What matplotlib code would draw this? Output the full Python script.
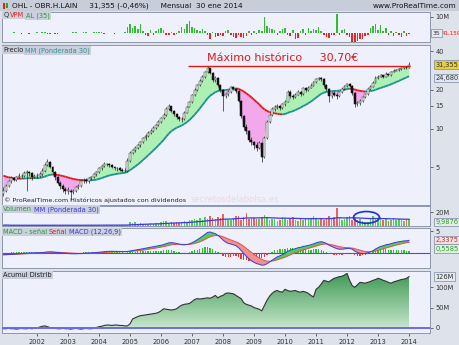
import numpy as np
import pandas as pd
import matplotlib
matplotlib.use("Agg")
import matplotlib.pyplot as plt
from matplotlib.patches import Ellipse, Rectangle
from matplotlib.collections import LineCollection
from matplotlib.ticker import NullLocator

W, H = 460, 345

# months counted from jan 2002, first candle = dec 2000
first_month = -13
years = list(range(2002, 2015))

# monthly closes before the visible window (only feed the averages)
pre_closes = [5.8, 6.0, 6.2, 5.9, 5.6, 5.4, 5.5, 5.6, 5.3, 5.0, 5.1, 5.2, 5.0, 4.8, 4.9,
              5.0, 4.8, 4.6, 4.7, 4.5, 4.3, 4.4, 4.2, 4.0, 3.9, 3.7, 3.5, 3.4, 3.2]

first_open = 3.1
closes = [3.3, 3.6, 3.9, 4.1, 4.0, 4.2, 4.3, 4.3, 4.5, 4.6, 4.5, 4.2, 4.3,
          4.3, 4.4, 4.7, 5.2, 5.5, 5.0, 4.6, 4.2, 3.8, 3.6, 3.4, 3.3,
          3.3, 3.2, 3.3, 3.5, 3.6, 3.9, 4.0, 3.9, 4.1, 4.2, 4.4, 4.6,
          4.9, 5.1, 5.3, 5.3, 5.2, 5.0, 4.9, 4.9, 4.8, 4.7, 4.7, 5.6,
          6.5, 6.8, 7.1, 7.4, 7.8, 8.4, 8.8, 9.2, 9.6, 10.1, 10.6, 11.3,
          12.0, 12.8, 14.2, 14.9, 13.8, 12.9, 12.3, 11.9, 11.9, 13.3, 14.8, 16.0,
          18.2, 20.0, 21.8, 23.6, 25.3, 27.4, 29.3, 27.0, 23.8, 24.6, 21.8, 19.8,
          17.9, 18.5, 19.3, 21.0, 20.3, 19.6, 16.5, 12.5, 10.3, 9.5, 8.2, 7.8,
          7.5, 7.1, 7.7, 6.0, 8.5, 11.2, 12.8, 14.2, 14.8, 14.9, 14.5, 15.4,
          16.2, 19.4, 18.0, 17.6, 18.4, 19.3, 18.6, 20.6, 19.8, 20.8, 21.6, 22.9,
          24.2, 24.5, 24.2, 21.8, 20.4, 17.8, 18.9, 18.4, 17.9, 19.1, 20.4, 21.3,
          22.2, 21.6, 18.8, 15.6, 15.8, 16.5, 17.5, 18.5, 20.3, 21.2, 22.8, 24.8,
          25.3, 25.9, 25.2, 26.7, 25.9, 27.6, 28.2, 28.4, 29.2, 29.3, 30.3, 29.8,
          31.355]
highs = [3.5, 3.7, 4.0, 4.3, 4.2, 4.3, 4.5, 4.4, 4.7, 4.8, 4.7, 4.6, 4.4,
         4.5, 4.6, 4.9, 5.4, 5.8, 5.6, 5.1, 4.7, 4.3, 3.9, 3.7, 3.5,
         3.5, 3.4, 3.4, 3.6, 3.7, 4.0, 4.1, 4.1, 4.2, 4.3, 4.5, 4.7,
         5.0, 5.2, 5.5, 5.4, 5.4, 5.3, 5.1, 5.0, 5.0, 4.9, 4.9, 5.9,
         6.7, 7.0, 7.3, 7.6, 8.0, 8.6, 9.0, 9.5, 9.9, 10.4, 10.9, 11.6,
         12.4, 13.2, 14.6, 15.4, 15.1, 14.0, 13.1, 12.5, 12.3, 13.6, 15.1, 16.4,
         18.6, 20.5, 22.3, 24.2, 26.0, 28.2, 30.7, 29.8, 27.4, 25.4, 25.0, 22.2,
         20.2, 19.0, 19.8, 21.6, 21.5, 20.8, 19.9, 16.8, 12.8, 10.8, 9.8, 8.6,
         8.0, 7.8, 8.0, 7.9, 8.8, 11.6, 13.2, 14.6, 15.3, 15.5, 15.3, 15.9,
         16.8, 20.0, 19.8, 18.5, 18.9, 19.9, 19.6, 21.2, 21.0, 21.4, 22.6, 23.5,
         24.8, 25.3, 25.0, 24.5, 22.3, 20.8, 19.4, 19.6, 18.9, 19.6, 21.0, 21.9,
         22.8, 22.6, 22.0, 19.2, 16.5, 17.0, 18.0, 19.0, 20.8, 21.8, 23.4, 25.4,
         26.0, 26.6, 26.3, 27.3, 27.0, 28.2, 28.8, 29.0, 29.8, 29.9, 30.9, 30.8,
         32.8]
lows = [3.0, 3.2, 3.5, 3.8, 3.9, 3.9, 4.1, 4.1, 4.2, 3.3, 4.3, 4.0, 4.1,
        4.1, 4.2, 4.3, 4.6, 5.1, 4.9, 4.4, 4.0, 3.7, 3.4, 3.2, 3.1,
        3.1, 2.8, 3.1, 3.2, 3.4, 3.5, 3.8, 3.8, 3.8, 4.0, 4.1, 4.3,
        4.5, 4.8, 5.0, 5.1, 5.0, 4.9, 4.8, 4.7, 4.7, 4.6, 4.6, 4.6,
        5.5, 6.3, 6.6, 7.0, 7.2, 7.7, 8.2, 8.6, 9.0, 9.4, 9.9, 10.4,
        11.1, 11.8, 12.6, 13.9, 13.4, 12.6, 11.9, 11.4, 11.2, 11.7, 13.1, 14.6,
        15.8, 17.9, 19.6, 21.4, 23.2, 24.9, 27.0, 26.5, 23.2, 23.1, 21.2, 19.2,
        13.8, 17.2, 18.0, 19.0, 19.8, 19.0, 16.0, 12.0, 9.8, 9.0, 7.8, 7.4,
        7.0, 6.7, 6.9, 5.5, 5.9, 8.3, 11.0, 12.5, 13.8, 14.2, 14.0, 14.2,
        15.1, 16.0, 17.3, 17.0, 17.3, 18.1, 18.0, 18.4, 19.3, 19.5, 20.5, 21.3,
        22.6, 23.8, 23.6, 21.2, 19.6, 16.0, 17.3, 17.8, 17.0, 17.6, 18.8, 20.0,
        21.0, 21.0, 18.2, 14.8, 14.9, 15.3, 16.2, 17.2, 18.2, 20.0, 21.0, 22.5,
        24.4, 25.0, 24.8, 25.0, 25.4, 25.7, 27.3, 27.8, 28.1, 28.6, 29.0, 29.2,
        29.6]

# volume, millions of shares
volume_m = [1.2, 1.5, 1.0, 0.9, 1.3, 1.1, 0.8, 1.0, 1.4, 0.9, 1.2, 1.0, 1.1,
            1.3, 1.0, 1.2, 1.5, 1.1, 0.9, 1.0, 1.2, 1.4, 1.0, 0.8, 1.1,
            1.3, 1.0, 0.9, 1.2, 1.1, 1.0, 1.3, 1.5, 1.2, 1.0, 1.1, 1.4,
            1.6, 1.8, 1.3, 1.5, 1.2, 1.4, 1.1, 1.3, 1.6, 1.2, 1.4, 2.0,
            6.5, 4.0, 5.5, 3.2, 4.8, 3.5, 2.8, 3.6, 4.2, 3.0, 3.8, 4.5,
            5.2, 6.8, 7.5, 5.0, 6.2, 4.8, 5.5, 4.1, 6.0, 7.2, 5.8, 8.5,
            9.0, 10.5, 8.2, 11.0, 9.4, 12.5, 10.0, 14.5, 11.2, 9.8, 13.0, 12.2,
            18.0, 10.5, 9.2, 8.4, 11.5, 13.8, 15.0, 9.0, 12.4, 18.5, 10.2, 12.0,
            11.5, 9.8, 10.8, 13.0, 16.2, 11.0, 8.5, 9.6, 10.4, 7.8, 9.2, 13.5,
            11.8, 8.6, 10.2, 12.6, 9.4, 7.8, 11.0, 8.2, 9.6, 12.0, 11.0, 14.5,
            10.5, 9.0, 11.8, 8.4, 12.2, 15.0, 9.6, 13.4, 26.0, 11.6, 8.0, 10.2,
            12.8, 14.8, 9.0, 11.4, 8.2, 10.0, 7.4, 6.4, 5.8, 11.6, 14.2, 10.6,
            9.2, 12.6, 8.8, 10.4, 7.8, 9.4, 11.2, 8.6, 10.0, 9.2, 7.6, 10.8,
            9.9]

vpm_m = [0.2, -0.3, 0.3, -0.2, 0.4, -0.3, 0.2, -0.4, 0.3, 0.2, -0.5, 0.3, -0.2,
         0.4, 0.3, 0.5, 0.6, -0.4, -0.5, -0.3, -0.6, -0.4, 0.2, -0.3, 0.3,
         -0.2, 0.3, 0.4, 0.5, 0.3, -0.3, 0.4, 0.5, -0.3, 0.3, 0.4, 0.6,
         0.8, 0.5, -0.4, 0.3, -0.3, 0.2, -0.4, 0.3, -0.3, 0.2, 0.4, 3.5,
         5.5, 3.0, 4.5, 2.2, 5.8, 1.5, -1.2, -1.8, 2.0, -1.5, 1.2, 2.4,
         3.2, 2.0, -1.0, -1.5, 0.8, -1.2, -0.8, 1.0, 3.5, 2.5, 5.8, 7.5,
         4.0, 3.2, 1.8, 1.2, 2.5, 1.5, -1.0, -3.5, 0.8, -2.5, -1.8, -1.2,
         -2.0, 1.5, 2.0, -1.0, -2.2, -3.0, -1.5, -2.5, -3.2, -1.8, 1.2, -1.0,
         1.5, -0.8, 2.0, 1.0, 10.0, 4.5, 3.2, 2.5, 1.8, -1.0, 1.5, 2.2,
         3.0, -1.5, -2.0, 1.8, -3.5, -2.8, 1.5, 2.5, -1.2, 3.0, 1.5, 2.8,
         2.0, 3.5, 1.2, -1.5, -2.2, -3.0, -1.2, -1.0, 12.0, -1.5, 1.8, 2.5,
         -1.0, -2.5, -5.5, -6.0, -5.2, -4.0, -3.5, -2.0, -1.5, 3.0, 4.2, 5.6,
         2.0, 5.0, 1.5, 3.2, -1.0, 1.2, -2.0, 0.8, -1.5, -2.2, 1.0, -1.8,
         -0.5]

acumul_m = [-2, -2, -1, -2, -2, -3, -2, -1, -2, -2, -1, -2, -1,
            0, 2, 4, 5, 3, 1, 0, -1, -2, -2, -1, -2,
            -2, -3, -2, -1, -2, -3, -2, -1, -2, -2, -1, 1,
            3, 4, 6, 7, 7, 6, 7, 7, 6, 6, 5, 5,
            10, 22, 25, 28, 30, 31, 32, 33, 34, 35, 36, 38,
            42, 47, 46, 45, 44, 45, 47, 52, 56, 58, 59, 60,
            65, 70, 72, 71, 72, 73, 74, 73, 76, 80, 74, 78,
            80, 85, 86, 85, 84, 80, 76, 72, 62, 58, 56, 54,
            50, 48, 46, 42, 55, 68, 78, 85, 90, 92, 89, 88,
            95, 92, 90, 91, 92, 89, 88, 90, 88, 85, 80, 76,
            95, 100, 108, 117, 115, 113, 118, 122, 124, 126, 127, 130,
            134, 117, 104, 100, 106, 112, 111, 110, 112, 114, 117, 119,
            122, 120, 117, 115, 112, 110, 113, 115, 117, 119, 120, 122,
            126]

record_price = 30.70
last_ma_label = 24.68

# ---------------------------------------------------------------
c = np.array(closes)
o = np.array([first_open] + closes[:-1])
hi = np.array(highs)
lo = np.array(lows)
n = np.arange(len(c)) + first_month
vol = np.array(volume_m)
vpm = np.array(vpm_m)
ad = np.array(acumul_m)

def wma(values, period):
    w = np.arange(1, period + 1)
    return pd.Series(values).rolling(period).apply(lambda x: np.dot(x, w) / w.sum(), raw=True).values

full = np.array(pre_closes + closes)
ma = wma(full, 30)[len(pre_closes):]
vol_ma = pd.Series(vol).rolling(30, min_periods=1).apply(
    lambda x: np.dot(x, np.arange(1, len(x) + 1)) / np.arange(1, len(x) + 1).sum(), raw=True).values

s = pd.Series(full)
macd_full = s.ewm(span=12, adjust=False).mean() - s.ewm(span=26, adjust=False).mean()
signal_full = macd_full.ewm(span=9, adjust=False).mean()
macd = macd_full.values[len(pre_closes):]
signal = signal_full.values[len(pre_closes):]
hist = macd - signal

# ---------------------------------------------------------------
BG = "#dde2eb"
PANEL = "#eef0fb"
EDGE = "#8e97ab"
XL = (-13.55, 152.1)

fig = plt.figure(figsize=(W / 100, H / 100), dpi=100, facecolor=BG)

def px_axes(x0, y0, x1, y1):
    ax = fig.add_axes([x0 / W, 1 - y1 / H, (x1 - x0) / W, (y1 - y0) / H])
    ax.set_facecolor(PANEL)
    for sp in ax.spines.values():
        sp.set_color(EDGE)
        sp.set_linewidth(0.7)
    ax.set_xlim(*XL)
    ax.set_xticks([])
    ax.yaxis.tick_right()
    ax.tick_params(axis="y", labelsize=4.8, length=2, width=0.5, colors="#333", pad=2)
    return ax

def tab(ax, parts, y=0.985):
    x = 0.003
    for txt, col in parts:
        t = ax.text(x, y, txt, transform=ax.transAxes, fontsize=4.8, color=col, va="top", ha="left",
                    bbox=dict(boxstyle="square,pad=0.15", fc="#c9cfdc", ec="none"), zorder=20)
        fig.canvas.draw()
        bb = t.get_window_extent().transformed(ax.transAxes.inverted())
        x = bb.x1 + 0.004

def value_box(ax, y, txt, fc, tc, ec="#7d8aa3", x=1.012, size=4.8):
    ax.text(x, y, txt, transform=ax.get_yaxis_transform(), fontsize=size, color=tc,
            va="center", ha="left", clip_on=False,
            bbox=dict(boxstyle="square,pad=0.2", fc=fc, ec=ec, lw=0.5), zorder=30)

# title bar
fig.patches.append(Rectangle((0, 1 - 11 / H), 1, 11 / H, transform=fig.transFigure,
                             fc="#c7cdd9", ec="none"))
fig.patches.append(Rectangle((3 / W, 1 - 9 / H), 2 / W, 6 / H, transform=fig.transFigure, fc="#dd2222"))
fig.patches.append(Rectangle((6 / W, 1 - 8 / H), 2 / W, 5 / H, transform=fig.transFigure, fc="#22aa22"))
fig.text(12 / W, 1 - 5.5 / H, "OHL - OBR.H.LAIN     31,355 (-0,46%)     Mensual  30 ene 2014",
         fontsize=5.3, va="center", ha="left", color="#111")
fig.text(456 / W, 1 - 5.5 / H, "www.ProRealTime.com", fontsize=5.3, va="center", ha="right", color="#111")

# VPM panel
ax_v = px_axes(2, 12, 430, 42)
ax_v.set_ylim(-5.6, 13.1)
ax_v.bar(n, vpm, width=0.6, color=np.where(vpm >= 0, "#33bb33", "#ee2222"), lw=0)
ax_v.set_yticks([10])
ax_v.set_yticklabels(["10M"])
ax_v.text(1.027, 0, "41,159", transform=ax_v.get_yaxis_transform(), fontsize=4.0, color="#dd2222",
          va="center", ha="left", clip_on=False,
          bbox=dict(boxstyle="square,pad=0.12", fc="#f3dede", ec="none"), zorder=29)
value_box(ax_v, 0, "35", "#e6e9f2", "#333", x=1.006, size=4.4)
tab(ax_v, [("Q", "#333"), ("VPM", "#dd2222"), ("AL (35)", "#2a9a2a")])

# price panel
ax_p = px_axes(2, 45, 430, 205)
ax_p.set_yscale("log")
ax_p.set_ylim(2.55, 44.6)
ax_p.yaxis.set_minor_locator(NullLocator())
ax_p.set_yticks([5, 10, 15, 20, 40])
ax_p.set_yticklabels(["5", "10", "15", "20", "40"])

ax_p.fill_between(n, c, ma, where=c >= ma, interpolate=True, color="#aef0b4", lw=0, zorder=1)
ax_p.fill_between(n, c, ma, where=c < ma, interpolate=True, color="#f4a8ec", lw=0, zorder=1)

pts = np.column_stack([n, ma]).reshape(-1, 1, 2)
segs = np.concatenate([pts[:-1], pts[1:]], axis=1)
seg_cols = np.where(np.diff(ma) >= 0, "#17918c", "#e01818")
ax_p.add_collection(LineCollection(segs, colors=seg_cols, linewidths=1.3, zorder=3))

up = c >= o
body_lo = np.minimum(o, c)
body_h = np.maximum(np.abs(c - o), 0.02)
ax_p.vlines(n, lo, hi, color="#222", lw=0.5, zorder=4)
ax_p.bar(n[up], body_h[up], bottom=body_lo[up], width=0.75, color="#f2f2f2", edgecolor="#333",
         lw=0.35, zorder=5)
ax_p.bar(n[~up], body_h[~up], bottom=body_lo[~up], width=0.75, color="#111", edgecolor="#111",
         lw=0.35, zorder=5)

ax_p.hlines(record_price, 58.5, 144.5, color="#e01818", lw=1.0, zorder=6)
ax_p.text(95, 35.2, "Máximo histórico     30,70€", fontsize=8, color="#e01818",
          ha="center", va="center", zorder=7)
ax_p.text(0.005, 0.012, "© ProRealTime.com Históricos ajustados con dividendos", transform=ax_p.transAxes,
          fontsize=4.6, color="#222", va="bottom", ha="left", zorder=7)
ax_p.text(0.44, 0.005, "secretosdelabolsa.es", transform=ax_p.transAxes, fontsize=6,
          color="#f2d6d6", va="bottom", ha="left", zorder=0.5)
value_box(ax_p, closes[-1], "31,355", "#e6cf3c", "#333")
value_box(ax_p, last_ma_label, "24,680", "#dfe8f2", "#333")
tab(ax_p, [("Precio", "#222"), ("MM (Ponderada 30)", "#3c8f92")])

# volume panel
ax_vol = px_axes(2, 206, 430, 226)
ax_vol.set_ylim(0, 29)
ax_vol.bar(n, vol, width=0.6, color=np.where(up, "#55cc55", "#ee6060"), lw=0)
ax_vol.plot(n, vol_ma, color="#3b3bdd", lw=0.9)
ax_vol.add_patch(Ellipse((127.5, 12.5), 10, 17, fill=False, ec="#1f2fd8", lw=1.2, zorder=6))
ax_vol.set_yticks([20])
ax_vol.set_yticklabels(["20M"])
value_box(ax_vol, 6.0, "9,9876", "#e0f0e0", "#2a9a2a")
tab(ax_vol, [("Volumen", "#2a9a2a"), ("MM (Ponderada 30)", "#3b3bdd")])

# MACD panel
ax_m = px_axes(2, 228, 430, 268)
ax_m.set_ylim(-3.6, 5.7)
ax_m.axhline(0, color="#4a4aee", lw=0.8, zorder=1)
ax_m.bar(n, hist, width=0.5, color=np.where(hist >= 0, "#33bb33", "#ee3333"), lw=0, zorder=2)
ax_m.fill_between(n, macd, signal, where=macd >= signal, interpolate=True, color="#55cc55", lw=0, zorder=3)
ax_m.fill_between(n, macd, signal, where=macd < signal, interpolate=True, color="#f09090", lw=0, zorder=3)
ax_m.plot(n, signal, color="#e05050", lw=0.7, zorder=4)
ax_m.plot(n, macd, color="#3a3ae0", lw=0.7, zorder=4)
ax_m.set_yticks([5])
ax_m.set_yticklabels(["5"])
value_box(ax_m, 2.9, "2,3375", "#f4e0e0", "#dd2222")
value_box(ax_m, 0.9, "0,5585", "#e0f0e0", "#2a9a2a")
tab(ax_m, [("MACD - señal", "#2a9a2a"), ("Señal", "#dd2222"), ("MACD (12,26,9)", "#3b3bdd")])

# accumulation / distribution panel
ax_a = px_axes(2, 271, 430, 333)
ax_a.set_ylim(-12.5, 140)
poly = ax_a.fill_between(n, 0, ad, color="none", lw=0)
grad = np.linspace(1, 0, 256).reshape(-1, 1)
img = ax_a.imshow(grad, extent=(n[0], n[-1], 0, ad.max()), aspect="auto", origin="upper",
                  cmap=matplotlib.colors.LinearSegmentedColormap.from_list("g", ["#c7e6cc", "#3f9955"]),
                  zorder=1)
img.set_clip_path(poly.get_paths()[0], transform=ax_a.transData)
ax_a.plot(n, ad, color="#333", lw=0.8, zorder=2)
ax_a.axhline(0, color="#6a6af0", lw=1.4, zorder=3)
ax_a.set_xlim(*XL)
ax_a.set_yticks([0, 50, 100])
ax_a.set_yticklabels(["0", "50M", "100M"])
value_box(ax_a, 126, "126M", "#e6e9f2", "#333")
tab(ax_a, [("Acumul Distrib", "#222")])
ax_a.set_xticks([12 * (y - 2002) for y in years])
ax_a.set_xticklabels([str(y) for y in years])
ax_a.tick_params(axis="x", labelsize=4.8, length=2, width=0.5, colors="#333", pad=2)

fig.savefig("out.png", dpi=100, facecolor=BG)
